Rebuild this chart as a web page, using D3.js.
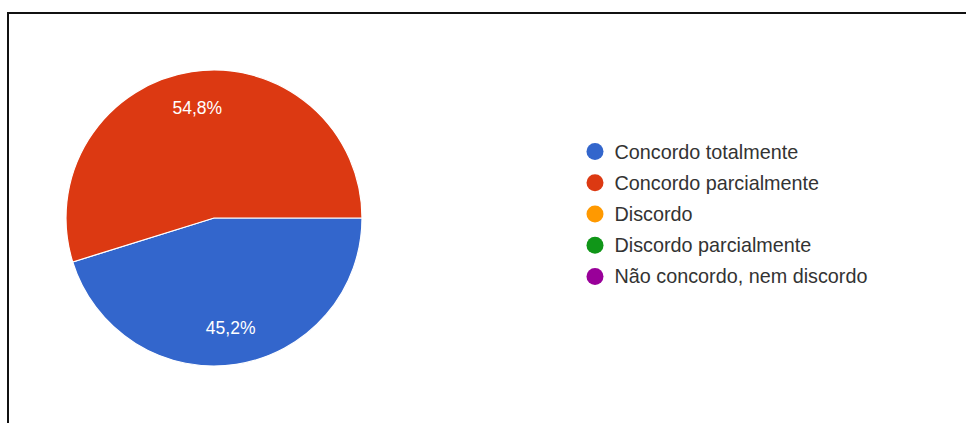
<!DOCTYPE html>
<html>
<head>
<meta charset="utf-8">
<script src="https://cdn.jsdelivr.net/npm/d3@7"></script>
<style>
  html, body { margin: 0; padding: 0; background: #fff; }
  svg { display: block; }
</style>
</head>
<body>
<svg id="chart" width="966" height="423"></svg>
<script>
// Survey answers and their share of responses (%)
const categories = [
  "Concordo totalmente",
  "Concordo parcialmente",
  "Discordo",
  "Discordo parcialmente",
  "Não concordo, nem discordo"
];
const shares = [45.2, 54.8, 0, 0, 0];
const colors = ["#3366cc", "#dc3912", "#ff9900", "#109618", "#990099"];

const svg = d3.select("#chart");
const W = 966, H = 423;

// frame lines
svg.append("line").attr("x1", 8).attr("x2", W).attr("y1", 13).attr("y2", 13)
  .attr("stroke", "#111").attr("stroke-width", 2);
svg.append("line").attr("x1", 8).attr("x2", 8).attr("y1", 12).attr("y2", H)
  .attr("stroke", "#111").attr("stroke-width", 2);

const data = categories.map((c, i) => ({ name: c, value: shares[i], color: colors[i] }));

const cx = 214, cy = 218, r = 148;
const pie = d3.pie().sort(null).value(d => d.value)
  .startAngle(Math.PI / 2).endAngle(Math.PI / 2 + 2 * Math.PI);
const arcs = pie(data).filter(d => d.data.value > 0);

const arc = d3.arc().innerRadius(0).outerRadius(r);
const labelArc = d3.arc().innerRadius(r * 0.75).outerRadius(r * 0.75);

const g = svg.append("g").attr("transform", `translate(${cx},${cy})`);
g.selectAll("path.slice").data(arcs).join("path")
  .attr("class", "slice")
  .attr("d", arc)
  .attr("fill", d => d.data.color)
  .attr("stroke", "#fff")
  .attr("stroke-width", 1.2);

const fmt = v => v.toFixed(1).replace(".", ",") + "%";
g.selectAll("text.pct").data(arcs).join("text")
  .attr("class", "pct")
  .attr("transform", d => `translate(${labelArc.centroid(d)})`)
  .attr("text-anchor", "middle")
  .attr("dominant-baseline", "central")
  .attr("font-family", "Arial, 'Liberation Sans', sans-serif")
  .attr("font-size", 17.5)
  .attr("fill", "#fff")
  .text(d => fmt(d.data.value));

// legend
const legendY = d3.scaleBand().domain(categories).range([136, 292]);
const lg = svg.append("g");
const rows = lg.selectAll("g.row").data(data).join("g")
  .attr("class", "row")
  .attr("transform", d => `translate(595,${legendY(d.name) + legendY.bandwidth() / 2})`);
rows.append("circle").attr("r", 8.5).attr("fill", d => d.color);
rows.append("text")
  .attr("x", 19.5)
  .attr("dominant-baseline", "central")
  .attr("font-family", "Arial, 'Liberation Sans', sans-serif")
  .attr("font-size", 19.8)
  .attr("fill", "#333")
  .text(d => d.name);
</script>
</body>
</html>
